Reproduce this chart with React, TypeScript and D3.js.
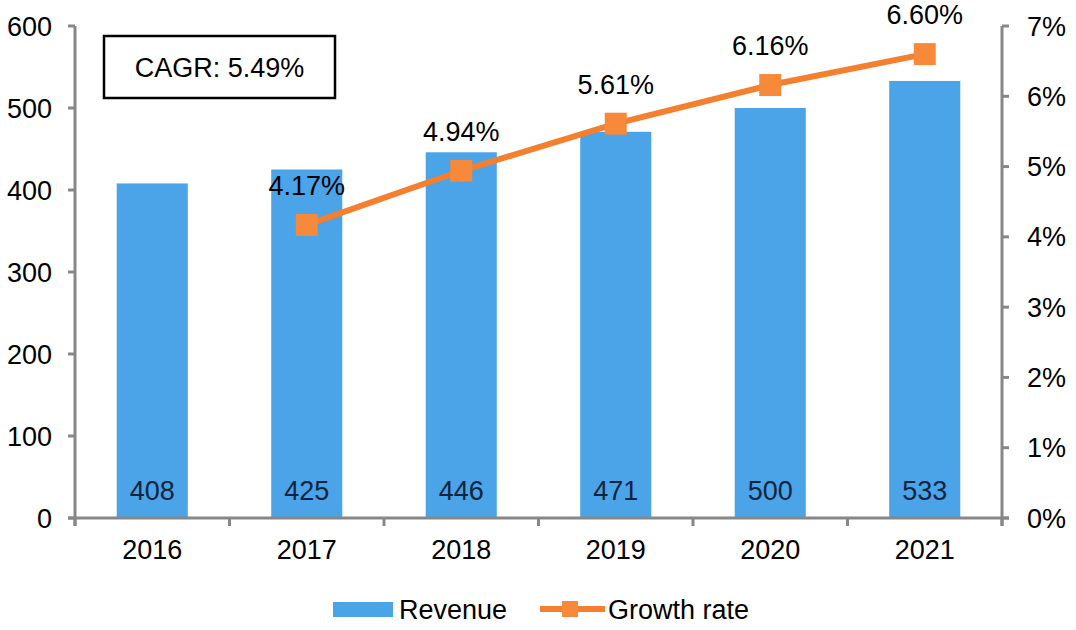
import React from "react";
import * as d3 from "d3";

const years = ["2016", "2017", "2018", "2019", "2020", "2021"];
const revenue = [408, 425, 446, 471, 500, 533];
const growth: (number | null)[] = [null, 4.17, 4.94, 5.61, 6.16, 6.6];
const leftTicks = [0, 100, 200, 300, 400, 500, 600];
const rightTicks = [0, 1, 2, 3, 4, 5, 6, 7];
const cagrLabel = "CAGR: 5.49%";

const W = 1076;
const H = 630;
const m = { left: 75, right: 1002, top: 26, bottom: 518 };
const FONT = "'Liberation Sans', Arial, sans-serif";
const FS = 27;
const BAR = "#4ba3e8";
const LINE = "#f47f2f";
const MARK = "#f7893a";
const AXIS = "#878787";

export default function App() {
  const x = d3.scaleBand<string>().domain(years).range([m.left, m.right]).paddingInner(0).paddingOuter(0);
  const yL = d3.scaleLinear().domain([0, 600]).range([m.bottom, m.top]);
  const yR = d3.scaleLinear().domain([0, 7]).range([m.bottom, m.top]);
  const bw = x.bandwidth() * 0.46;
  const cx = (d: string) => (x(d) as number) + x.bandwidth() / 2;

  const pts = years
    .map((y, i) => ({ y, v: growth[i] }))
    .filter((p) => p.v != null) as { y: string; v: number }[];
  const line = d3
    .line<{ y: string; v: number }>()
    .x((p) => cx(p.y))
    .y((p) => yR(p.v));

  const boundaries = years.map((y) => x(y) as number).concat([m.right]);

  return (
    <svg
      width={W}
      height={H}
      style={{ position: "absolute", left: 0, top: 0, background: "#fff" }}
      fontFamily={FONT}
    >
      {/* bars */}
      {years.map((y, i) => (
        <g key={y}>
          <rect
            x={cx(y) - bw / 2}
            y={yL(revenue[i])}
            width={bw}
            height={yL(0) - yL(revenue[i])}
            fill={BAR}
          />
          <text x={cx(y)} y={499.5} textAnchor="middle" fontSize={FS} fill="#0f2440">
            {revenue[i]}
          </text>
        </g>
      ))}

      {/* left axis */}
      <line x1={m.left} x2={m.left} y1={m.top} y2={m.bottom + 8} stroke={AXIS} strokeWidth={3} />
      {leftTicks.map((t) => (
        <g key={t}>
          <line x1={m.left - 7} x2={m.left} y1={yL(t)} y2={yL(t)} stroke={AXIS} strokeWidth={3} />
          <text x={52} y={yL(t) + 9.5} textAnchor="end" fontSize={FS} fill="#000">
            {t}
          </text>
        </g>
      ))}

      {/* right axis */}
      <line x1={m.right} x2={m.right} y1={m.top} y2={m.bottom + 8} stroke={AXIS} strokeWidth={3} />
      {rightTicks.map((t) => (
        <g key={t}>
          <line x1={m.right} x2={m.right + 7} y1={yR(t)} y2={yR(t)} stroke={AXIS} strokeWidth={3} />
          <text x={1027} y={yR(t) + 9.5} textAnchor="start" fontSize={FS} fill="#000">
            {t}%
          </text>
        </g>
      ))}

      {/* x axis */}
      <line x1={m.left - 7} x2={m.right + 7} y1={m.bottom} y2={m.bottom} stroke={AXIS} strokeWidth={3} />
      {boundaries.map((b, i) => (
        <line key={i} x1={b} x2={b} y1={m.bottom} y2={m.bottom + 8} stroke={AXIS} strokeWidth={3} />
      ))}
      {years.map((y) => (
        <text key={y} x={cx(y)} y={558.5} textAnchor="middle" fontSize={FS} fill="#000">
          {y}
        </text>
      ))}

      {/* growth line */}
      <path d={line(pts) || ""} fill="none" stroke={LINE} strokeWidth={6} />
      {pts.map((p) => (
        <g key={p.y}>
          <rect x={cx(p.y) - 11} y={yR(p.v) - 11} width={22} height={22} fill={MARK} />
          <text x={cx(p.y)} y={yR(p.v) - 30} textAnchor="middle" fontSize={FS} fill="#000">
            {p.v.toFixed(2)}%
          </text>
        </g>
      ))}

      {/* CAGR box */}
      <rect x={104} y={36} width={231} height={62} fill="#fff" stroke="#000" strokeWidth={2.5} />
      <text x={219.5} y={77} textAnchor="middle" fontSize={FS} fill="#000">
        {cagrLabel}
      </text>

      {/* legend */}
      <rect x={333} y={602} width={60} height={15} fill={BAR} />
      <text x={399} y={619} fontSize={FS} fill="#000">Revenue</text>
      <line x1={540} x2={605} y1={609} y2={609} stroke={LINE} strokeWidth={6} />
      <rect x={562} y={601} width={16} height={16} fill={MARK} />
      <text x={608} y={619} fontSize={FS} fill="#000">Growth rate</text>
    </svg>
  );
}
